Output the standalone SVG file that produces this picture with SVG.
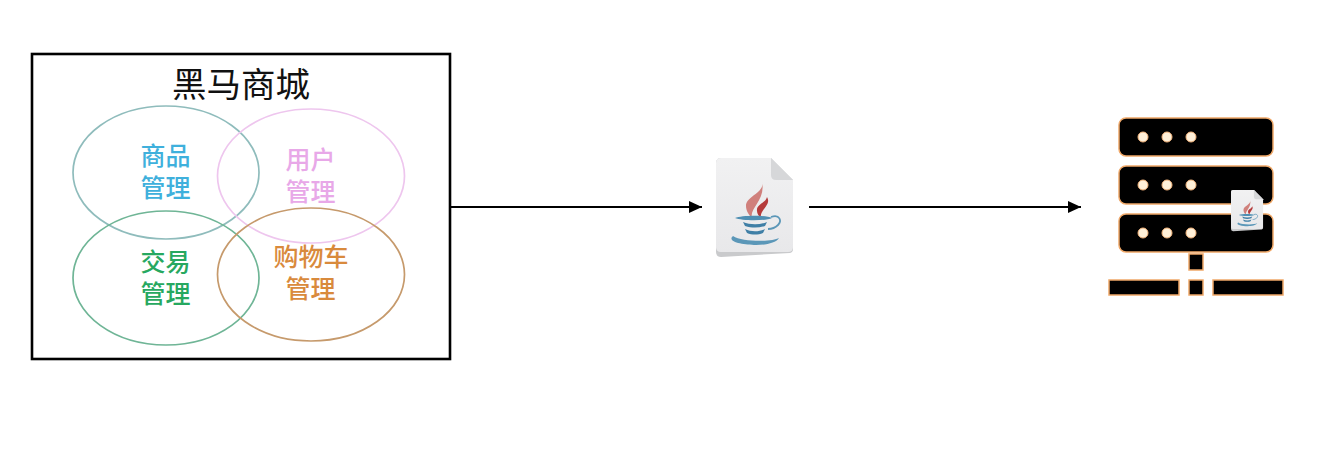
<svg xmlns="http://www.w3.org/2000/svg" width="1329" height="466" viewBox="0 0 1329 466">
<style>
text{font-family:"Noto Sans CJK SC","Liberation Sans",sans-serif;text-anchor:middle;font-weight:500}
.t{font-size:25px}
.e{fill:none;stroke-width:1.7}
.c{fill:none;stroke:#000;stroke-width:2}
.b{fill:#000;stroke:#f0a868;stroke-width:1.5}
.d{fill:#fff0d8;stroke:#f3b47c;stroke-width:1}
</style>
<defs>
<marker id="arrow" markerUnits="userSpaceOnUse" markerWidth="14" markerHeight="12" refX="13" refY="6" orient="auto"><path d="M0 0L13 6L0 12Z" fill="#000"/></marker>
<linearGradient id="docfill" x1="0" y1="0" x2="0" y2="1"><stop offset="0" stop-color="#f1f1f2"/><stop offset="1" stop-color="#e8e8ea"/></linearGradient>
<g id="javadoc">
<path d="M5 0H55L77 22V91Q77 94 74 95L5 99Q0 99 0 94V5Q0 0 5 0Z" fill="#c9cacc"/>
<path d="M5 0H55L77 22V89Q77 94 72 94H5Q0 94 0 89V5Q0 0 5 0Z" fill="url(#docfill)"/>
<path d="M55 0L77 22H60Q55 22 55 17Z" fill="#d6d7d9"/>
<path d="M46 24C49 35 30 38 30 48C30 53 33 57 36 60C33 50 50 42 46 24Z" fill="#d0807c"/>
<path d="M51 39C50 45 40 46 41 53C41 56 43 58 45 60C43 52 56 47 51 39Z" fill="#b53b3b"/>
<path d="M19 60C26 57 50 57 56 60C50 63 26 63 19 60Z" fill="#4f8fb3"/>
<path d="M27 64C34 67 44 67 51 64L49 68C42 70 36 70 29 68Z" fill="#3f7fa6"/>
<path d="M29 71C35 74 43 74 49 71L47 75C42 77 36 77 31 75Z" fill="#3f7fa6"/>
<path d="M55 59C64 56 66 63 62 67C60 69 56 71 52 71" fill="none" stroke="#5b97b8" stroke-width="1.8"/>
<path d="M17 78C10 84 28 87 40 87C50 87 60 85 63 80C56 84 26 84 17 78Z" fill="#5b97b8"/>
</g>
</defs>
<g id="connectors">
<line class="c" x1="451" y1="207" x2="702" y2="207" marker-end="url(#arrow)"/>
<line class="c" x1="809" y1="207" x2="1081" y2="207" marker-end="url(#arrow)"/>
</g>
<g id="mall">
<rect x="32" y="54" width="418" height="305" fill="none" stroke="#000" stroke-width="2.6"/>
<text x="241" y="97" font-size="34.5" fill="#111" style="font-weight:400">黑马商城</text>
</g>
<g id="goods">
<ellipse class="e" cx="166" cy="172.5" rx="93" ry="66.5" stroke="#8fbcbc"/>
<text class="t" fill="#3fb0dc"><tspan x="165.500" y="165">商品</tspan><tspan x="165.500" y="197">管理</tspan></text>
</g>
<g id="user">
<ellipse class="e" cx="311" cy="176" rx="93.500" ry="67" stroke="#eec6ee"/>
<text class="t" fill="#e8a8e8"><tspan x="310.500" y="169">用户</tspan><tspan x="310.500" y="201">管理</tspan></text>
</g>
<g id="trade">
<ellipse class="e" cx="166" cy="278" rx="93" ry="67" stroke="#6fb596"/>
<text class="t" fill="#27a860"><tspan x="165.500" y="271">交易</tspan><tspan x="165.500" y="303">管理</tspan></text>
</g>
<g id="cart">
<ellipse class="e" cx="311" cy="274.500" rx="93.500" ry="66.500" stroke="#c69a6c"/>
<text class="t" fill="#d98a3c"><tspan x="311" y="266">购物车</tspan><tspan x="310.500" y="298">管理</tspan></text>
</g>
<g id="java-file">
<use href="#javadoc" transform="translate(716 158)"/>
</g>
<g id="server">
<rect class="b" x="1119" y="118" width="154" height="38" rx="7"/>
<rect class="b" x="1119" y="166" width="154" height="38" rx="7"/>
<rect class="b" x="1119" y="214" width="154" height="38" rx="7"/>
<circle class="d" cx="1143" cy="137" r="5"/><circle class="d" cx="1167" cy="137" r="5"/><circle class="d" cx="1191" cy="137" r="5"/>
<circle class="d" cx="1143" cy="185" r="5"/><circle class="d" cx="1167" cy="185" r="5"/><circle class="d" cx="1191" cy="185" r="5"/>
<circle class="d" cx="1143" cy="233" r="5"/><circle class="d" cx="1167" cy="233" r="5"/><circle class="d" cx="1191" cy="233" r="5"/>
<rect class="b" x="1189" y="254" width="14" height="16" stroke-width="1"/>
<rect class="b" x="1109" y="280" width="70" height="15" stroke-width="1"/>
<rect class="b" x="1189" y="280" width="14" height="15" stroke-width="1"/>
<rect class="b" x="1213" y="280" width="70" height="15" stroke-width="1"/>
<use href="#javadoc" transform="translate(1231 190) scale(0.416)"/>
</g>
</svg>
